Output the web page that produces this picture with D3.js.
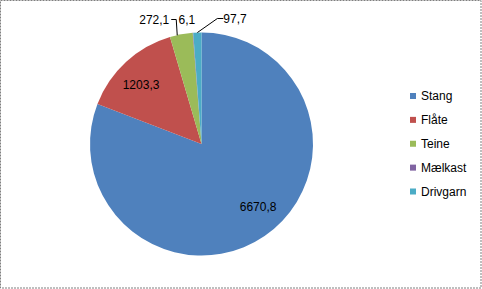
<!DOCTYPE html>
<html>
<head>
<meta charset="utf-8">
<script src="https://cdn.jsdelivr.net/npm/d3@7"></script>
<style>
  html, body { margin: 0; padding: 0; background: #fff; }
  svg { display: block; }
</style>
</head>
<body>
<div id="chart"></div>
<script>
const categories = ["Stang", "Fl\u00e5te", "Teine", "M\u00e6lkast", "Drivgarn"];
const values = [6670.8, 1203.3, 272.1, 6.1, 97.7];
const labels = ["6670,8", "1203,3", "272,1", "6,1", "97,7"];
const colors = ["#4F81BD", "#C0504D", "#9BBB59", "#8064A2", "#4BACC6"];
// where each value label sits: inside the slice, or above the pie
const labelModes = ["inside", "inside", "left", "above", "right"];

const width = 482;
const height = 289;
const cx = 201.5, cy = 144, r = 111.5;
const font = "'Liberation Sans', Arial, sans-serif";

const svg = d3.select("#chart")
  .append("svg")
  .attr("width", width)
  .attr("height", height);

// dashed frame
svg.append("rect")
  .attr("x", 0.5)
  .attr("y", 0.5)
  .attr("width", width - 1.5)
  .attr("height", height - 1.5)
  .attr("fill", "none")
  .attr("stroke", "#7f7f7f")
  .attr("stroke-dasharray", "2,1");

const data = categories.map((c, i) => ({ name: c, value: values[i], label: labels[i], mode: labelModes[i], i }));

const pie = d3.pie().sort(null).value(d => d.value);
const arcs = pie(data);

const arc = d3.arc().innerRadius(0).outerRadius(r);
const edgeArc = d3.arc().innerRadius(r).outerRadius(r);

// Excel's best-fit pulls the big slice label a bit towards the start angle
const bestFit = d => {
  const mid = (d.startAngle + d.endAngle) / 2;
  const a = d.data.i === 0 ? mid - 0.13 : mid - 0.05;
  const rr = r * 0.76;
  return [Math.sin(a) * rr, -Math.cos(a) * rr];
};

const g = svg.append("g").attr("transform", `translate(${cx},${cy})`);

g.selectAll("path.slice")
  .data(arcs)
  .join("path")
  .attr("class", "slice")
  .attr("d", arc)
  .attr("fill", d => colors[d.data.i]);

// inside labels
g.selectAll("text.inside")
  .data(arcs.filter(d => d.data.mode === "inside"))
  .join("text")
  .attr("class", "inside")
  .attr("x", d => bestFit(d)[0])
  .attr("y", d => bestFit(d)[1] + 4)
  .attr("text-anchor", "middle")
  .style("font-family", font)
  .style("font-size", "12px")
  .attr("fill", "#000")
  .text(d => d.data.label);

// outside labels above the pie
const labelY = -r - 13;
const outside = arcs.filter(d => d.data.mode !== "inside");

outside.forEach(d => {
  const p = edgeArc.centroid(d);
  let tx, anchor, pts = null, ty = labelY;
  if (d.data.mode === "left") {
    tx = p[0] - 12; anchor = "end";
    pts = [[p[0] - 4, p[1] + 1], [p[0] - 5, labelY], [p[0] - 10, labelY]];
  } else if (d.data.mode === "right") {
    ty = labelY - 1;
    tx = p[0] + 26; anchor = "start";
    pts = [[p[0], p[1]], [p[0] + 20, ty], [p[0] + 26, ty]];
  } else {
    tx = p[0] - 6; anchor = "middle";
  }
  if (pts) {
    g.append("path")
      .attr("d", d3.line()(pts))
      .attr("fill", "none")
      .attr("stroke", "#000")
      .attr("stroke-width", 1);
  }
  g.append("text")
    .attr("x", tx)
    .attr("y", ty + 4)
    .attr("text-anchor", anchor)
    .style("font-family", font)
    .style("font-size", "12px")
    .attr("fill", "#000")
    .text(d.data.label);
});

// legend
const legendY = d3.scalePoint()
  .domain(categories)
  .range([96, 191.5]);

const legend = svg.append("g");

const items = legend.selectAll("g")
  .data(data)
  .join("g")
  .attr("transform", d => `translate(410,${legendY(d.name)})`);

items.append("rect")
  .attr("x", 0)
  .attr("y", -3)
  .attr("width", 6)
  .attr("height", 6)
  .attr("fill", d => colors[d.i]);

items.append("text")
  .attr("x", 11)
  .attr("y", 4)
  .style("font-family", font)
  .style("font-size", "12px")
  .attr("fill", "#000")
  .text(d => d.name);
</script>
</body>
</html>
